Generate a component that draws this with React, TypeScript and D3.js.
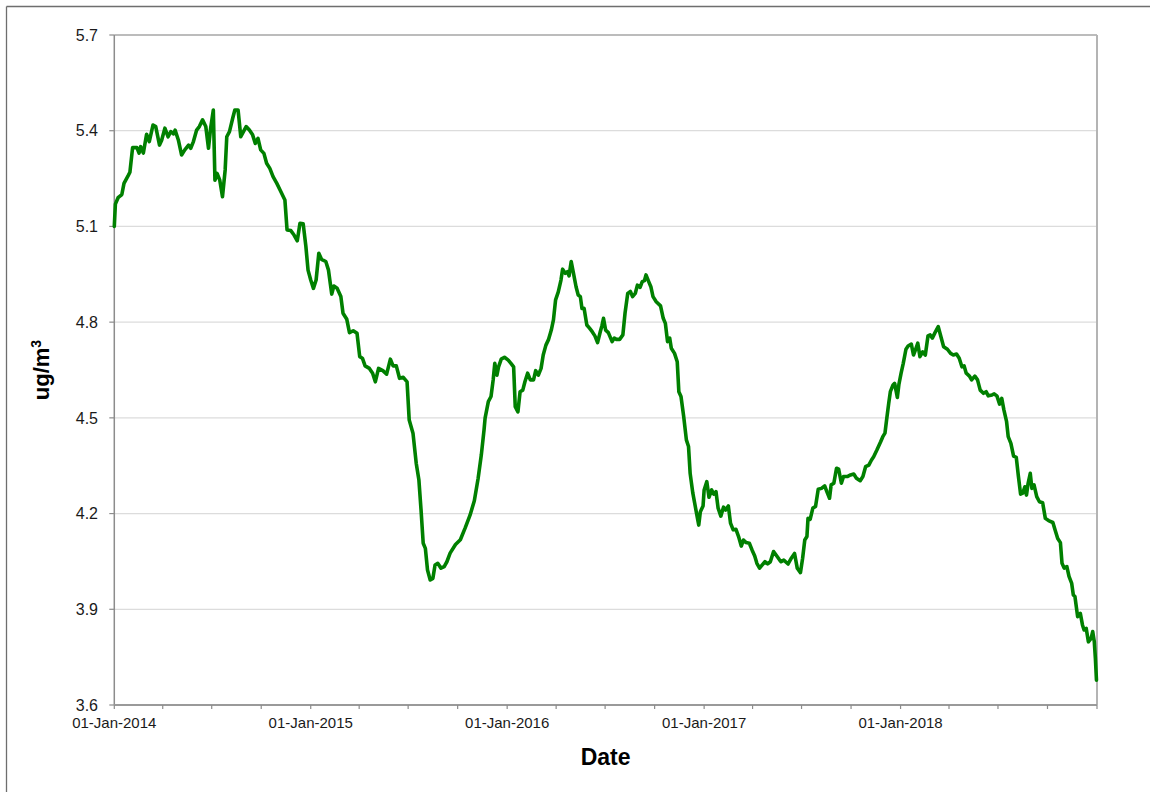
import React from 'react';
import * as d3 from 'd3';

// Rolling concentration series, one pair of arrays per year
const dates2014 = ['2014-01-01','2014-01-03','2014-01-08','2014-01-15','2014-01-19','2014-01-27','2014-01-30','2014-02-04','2014-02-12','2014-02-16','2014-02-19','2014-02-24','2014-03-02','2014-03-07','2014-03-14','2014-03-19','2014-03-26','2014-03-30','2014-04-05','2014-04-11','2014-04-16','2014-04-21','2014-04-24','2014-04-30','2014-05-06','2014-05-12','2014-05-19','2014-05-23','2014-05-28','2014-06-03','2014-06-08','2014-06-14','2014-06-20','2014-06-25','2014-06-29','2014-07-04','2014-07-07','2014-07-11','2014-07-16','2014-07-21','2014-07-26','2014-07-29','2014-08-03','2014-08-09','2014-08-13','2014-08-19','2014-08-24','2014-08-29','2014-09-03','2014-09-09','2014-09-15','2014-09-20','2014-09-25','2014-09-30','2014-10-06','2014-10-11','2014-10-17','2014-10-23','2014-10-30','2014-11-05','2014-11-14','2014-11-18','2014-11-25','2014-12-01','2014-12-07','2014-12-12','2014-12-18','2014-12-23','2014-12-27'];
const values2014 = [5.10,5.17,5.19,5.20,5.235,5.26,5.27,5.347,5.347,5.33,5.35,5.33,5.389,5.366,5.418,5.413,5.355,5.37,5.408,5.381,5.397,5.39,5.402,5.371,5.324,5.34,5.355,5.345,5.366,5.402,5.413,5.434,5.413,5.345,5.408,5.465,5.245,5.266,5.245,5.193,5.277,5.381,5.397,5.439,5.465,5.465,5.381,5.397,5.413,5.402,5.387,5.36,5.376,5.34,5.329,5.298,5.282,5.256,5.235,5.214,5.183,5.089,5.087,5.073,5.055,5.11,5.108,5.037,4.963];

const dates2015 = ['2015-01-01','2015-01-06','2015-01-11','2015-01-16','2015-01-21','2015-01-29','2015-02-03','2015-02-09','2015-02-13','2015-02-19','2015-02-26','2015-03-02','2015-03-09','2015-03-14','2015-03-21','2015-03-28','2015-04-02','2015-04-07','2015-04-12','2015-04-20','2015-04-26','2015-05-01','2015-05-07','2015-05-15','2015-05-22','2015-05-29','2015-06-03','2015-06-09','2015-06-15','2015-06-22','2015-06-29','2015-07-03','2015-07-10','2015-07-16','2015-07-21','2015-07-25','2015-07-29','2015-08-02','2015-08-06','2015-08-11','2015-08-16','2015-08-20','2015-08-25','2015-08-31','2015-09-06','2015-09-11','2015-09-17','2015-09-27','2015-10-06','2015-10-15','2015-10-24','2015-11-01','2015-11-08','2015-11-14','2015-11-19','2015-11-21','2015-11-27','2015-12-02','2015-12-06','2015-12-09','2015-12-13','2015-12-16','2015-12-21','2015-12-27'];
const values2015 = [4.932,4.906,4.932,5.016,4.997,4.99,4.963,4.888,4.913,4.906,4.88,4.828,4.809,4.767,4.773,4.765,4.692,4.687,4.663,4.655,4.64,4.613,4.655,4.648,4.637,4.684,4.663,4.663,4.624,4.627,4.613,4.493,4.452,4.358,4.305,4.211,4.107,4.091,4.023,3.992,3.997,4.039,4.044,4.029,4.034,4.049,4.076,4.103,4.118,4.155,4.195,4.24,4.31,4.384,4.462,4.499,4.551,4.567,4.619,4.671,4.634,4.66,4.684,4.69];

const dates2016 = ['2016-01-03','2016-01-08','2016-01-13','2016-01-16','2016-01-21','2016-01-25','2016-01-30','2016-02-03','2016-02-08','2016-02-13','2016-02-19','2016-02-23','2016-02-28','2016-03-04','2016-03-08','2016-03-13','2016-03-18','2016-03-23','2016-03-27','2016-03-31','2016-04-05','2016-04-10','2016-04-13','2016-04-18','2016-04-22','2016-04-25','2016-04-29','2016-05-03','2016-05-08','2016-05-12','2016-05-16','2016-05-19','2016-05-23','2016-05-28','2016-06-02','2016-06-07','2016-06-12','2016-06-17','2016-06-22','2016-06-25','2016-06-28','2016-07-02','2016-07-07','2016-07-14','2016-07-18','2016-07-22','2016-07-28','2016-08-03','2016-08-07','2016-08-12','2016-08-17','2016-08-21','2016-08-26','2016-08-30','2016-09-04','2016-09-08','2016-09-12','2016-09-15','2016-09-20','2016-09-24','2016-09-28','2016-10-04','2016-10-12','2016-10-17','2016-10-21','2016-10-25','2016-10-29','2016-11-01','2016-11-07','2016-11-12','2016-11-15','2016-11-19','2016-11-24','2016-11-29','2016-12-03','2016-12-06','2016-12-11','2016-12-18','2016-12-22','2016-12-25','2016-12-30'];
const values2016 = [4.681,4.671,4.66,4.535,4.519,4.582,4.587,4.613,4.64,4.619,4.619,4.648,4.634,4.655,4.697,4.728,4.746,4.775,4.807,4.87,4.895,4.932,4.966,4.953,4.958,4.945,4.99,4.955,4.911,4.885,4.88,4.843,4.843,4.791,4.781,4.77,4.757,4.736,4.77,4.788,4.812,4.775,4.767,4.739,4.75,4.746,4.746,4.76,4.828,4.89,4.896,4.88,4.89,4.916,4.909,4.927,4.93,4.948,4.927,4.911,4.88,4.864,4.851,4.812,4.796,4.739,4.75,4.718,4.702,4.676,4.582,4.567,4.504,4.431,4.41,4.326,4.264,4.2,4.164,4.206,4.224];

const dates2017 = ['2017-01-01','2017-01-06','2017-01-10','2017-01-15','2017-01-19','2017-01-23','2017-01-27','2017-02-01','2017-02-06','2017-02-10','2017-02-15','2017-02-19','2017-02-24','2017-03-01','2017-03-06','2017-03-11','2017-03-15','2017-03-20','2017-03-26','2017-03-31','2017-04-05','2017-04-09','2017-04-14','2017-04-19','2017-04-24','2017-04-29','2017-05-04','2017-05-10','2017-05-16','2017-05-21','2017-05-24','2017-05-29','2017-06-06','2017-06-12','2017-06-18','2017-06-23','2017-06-29','2017-07-03','2017-07-07','2017-07-11','2017-07-13','2017-07-17','2017-07-22','2017-07-27','2017-08-01','2017-08-07','2017-08-13','2017-08-17','2017-08-22','2017-08-25','2017-08-30','2017-09-04','2017-09-08','2017-09-13','2017-09-17','2017-09-24','2017-09-30','2017-10-06','2017-10-11','2017-10-18','2017-10-23','2017-10-28','2017-11-03','2017-11-08','2017-11-12','2017-11-18','2017-11-25','2017-11-29','2017-12-03','2017-12-06','2017-12-10','2017-12-13','2017-12-18','2017-12-21','2017-12-26','2017-12-29'];
const values2017 = [4.274,4.30,4.251,4.274,4.261,4.269,4.217,4.192,4.22,4.211,4.224,4.17,4.149,4.151,4.128,4.098,4.117,4.109,4.107,4.086,4.067,4.044,4.029,4.039,4.049,4.042,4.049,4.081,4.067,4.055,4.049,4.054,4.042,4.06,4.075,4.029,4.015,4.06,4.117,4.128,4.185,4.182,4.217,4.222,4.276,4.279,4.287,4.269,4.248,4.29,4.295,4.342,4.339,4.295,4.316,4.316,4.321,4.324,4.311,4.303,4.316,4.347,4.352,4.368,4.378,4.399,4.425,4.441,4.452,4.493,4.546,4.582,4.603,4.608,4.564,4.606];

const dates2018 = ['2018-01-02','2018-01-06','2018-01-11','2018-01-15','2018-01-21','2018-01-25','2018-01-29','2018-02-02','2018-02-06','2018-02-11','2018-02-16','2018-02-21','2018-02-25','2018-03-01','2018-03-06','2018-03-12','2018-03-17','2018-03-22','2018-03-29','2018-04-04','2018-04-09','2018-04-15','2018-04-20','2018-04-25','2018-04-29','2018-05-03','2018-05-09','2018-05-13','2018-05-19','2018-05-24','2018-05-29','2018-06-04','2018-06-09','2018-06-13','2018-06-20','2018-06-24','2018-06-29','2018-07-04','2018-07-08','2018-07-12','2018-07-17','2018-07-20','2018-07-25','2018-07-30','2018-08-04','2018-08-08','2018-08-12','2018-08-16','2018-08-20','2018-08-23','2018-08-26','2018-08-30','2018-09-02','2018-09-06','2018-09-11','2018-09-16','2018-09-22','2018-09-27','2018-10-03','2018-10-11','2018-10-15','2018-10-20','2018-10-25','2018-10-28','2018-11-01','2018-11-06','2018-11-10','2018-11-15','2018-11-18','2018-11-21','2018-11-26','2018-12-01','2018-12-05','2018-12-08','2018-12-12','2018-12-16','2018-12-21','2018-12-24','2018-12-27','2018-12-29','2018-12-31'];
const values2018 = [4.64,4.671,4.715,4.725,4.731,4.697,4.715,4.734,4.692,4.707,4.697,4.757,4.76,4.75,4.767,4.786,4.754,4.723,4.715,4.702,4.697,4.70,4.687,4.66,4.663,4.64,4.631,4.619,4.631,4.619,4.587,4.577,4.582,4.569,4.572,4.575,4.569,4.543,4.561,4.525,4.488,4.441,4.42,4.38,4.376,4.316,4.261,4.264,4.284,4.258,4.295,4.326,4.279,4.29,4.253,4.237,4.234,4.185,4.178,4.172,4.149,4.122,4.109,4.044,4.029,4.034,4.003,3.981,3.945,3.94,3.877,3.887,3.851,3.835,3.84,3.798,3.809,3.83,3.798,3.746,3.678];

const yTickValues = [3.6, 3.9, 4.2, 4.5, 4.8, 5.1, 5.4, 5.7];
const xLabelDates = ['2014-01-01', '2015-01-01', '2016-01-01', '2017-01-01', '2018-01-01'];
const xDomain = ['2014-01-01', '2019-01-01'];
const yTitle = 'ug/m';
const yTitleSup = '3';
const xTitle = 'Date';

const parse = d3.timeParse('%Y-%m-%d');
const fmt = d3.timeFormat('%d-%b-%Y');

type Pt = { date: Date; value: number };

const allDates = [...dates2014, ...dates2015, ...dates2016, ...dates2017, ...dates2018];
const allValues = [...values2014, ...values2015, ...values2016, ...values2017, ...values2018];
const series: Pt[] = allDates.map((d, i) => ({ date: parse(d) as Date, value: allValues[i] }));

const W = 1151;
const H = 792;
const plot = { left: 114.3, right: 1097, top: 35, bottom: 705 };

export default function App() {
  const x = d3
    .scaleTime()
    .domain(xDomain.map((d) => parse(d) as Date))
    .range([plot.left, plot.right]);
  const y = d3.scaleLinear().domain([3.6, 5.7]).range([plot.bottom, plot.top]);

  const line = d3
    .line<Pt>()
    .x((d) => x(d.date))
    .y((d) => y(d.value));

  const quarterTicks = x.ticks(d3.timeMonth.every(3) as d3.TimeInterval);
  const font = "'Liberation Sans', Arial, sans-serif";

  return (
    <svg
      width={W}
      height={H}
      style={{ position: 'absolute', left: 0, top: 0, background: '#fff' }}
      fontFamily={font}
    >
      {/* outer frame */}
      <line x1={6.5} y1={6.5} x2={1150} y2={6.5} stroke="#6e6e6e" strokeWidth={1.3} />
      <line x1={6.5} y1={6.5} x2={6.5} y2={H} stroke="#6e6e6e" strokeWidth={1.3} />

      {/* horizontal gridlines */}
      {yTickValues.map((v) => (
        <line
          key={'g' + v}
          x1={plot.left}
          x2={plot.right}
          y1={y(v)}
          y2={y(v)}
          stroke="#dcdcdc"
          strokeWidth={1.2}
        />
      ))}

      {/* plot frame */}
      <line x1={plot.left} x2={plot.right} y1={plot.top} y2={plot.top} stroke="#8c8c8c" strokeWidth={1.2} />
      <line x1={plot.right} x2={plot.right} y1={plot.top} y2={plot.bottom} stroke="#b4b4b4" strokeWidth={2} />

      {/* y axis */}
      <line x1={plot.left} x2={plot.left} y1={plot.top} y2={plot.bottom} stroke="#8c8c8c" strokeWidth={1.5} />
      {yTickValues.map((v) => (
        <g key={'yt' + v}>
          <line x1={plot.left - 5} x2={plot.left} y1={y(v)} y2={y(v)} stroke="#8c8c8c" strokeWidth={1.2} />
          <text x={98} y={y(v)} dy="0.36em" textAnchor="end" fontSize={16} fill="#1a1a1a">
            {v.toFixed(1)}
          </text>
        </g>
      ))}

      {/* x axis */}
      <line x1={plot.left} x2={plot.right} y1={plot.bottom} y2={plot.bottom} stroke="#9a9a9a" strokeWidth={2} />
      {quarterTicks.map((t) => (
        <line
          key={'xt' + t.getTime()}
          x1={x(t)}
          x2={x(t)}
          y1={plot.bottom}
          y2={plot.bottom + 4}
          stroke="#8c8c8c"
          strokeWidth={1.2}
        />
      ))}
      {xLabelDates.map((d) => {
        const dt = parse(d) as Date;
        return (
          <text key={'xl' + d} x={x(dt)} y={728} textAnchor="middle" fontSize={15} fill="#1a1a1a">
            {fmt(dt)}
          </text>
        );
      })}

      {/* axis titles */}
      <text x={(plot.left + plot.right) / 2} y={765} textAnchor="middle" fontSize={23} fontWeight="bold" fill="#000">
        {xTitle}
      </text>
      <text
        transform={`translate(49, ${(plot.top + plot.bottom) / 2}) rotate(-90)`}
        textAnchor="middle"
        fontSize={22}
        fontWeight="bold"
        fill="#000"
      >
        {yTitle}
        <tspan fontSize={14} dy={-8}>
          {yTitleSup}
        </tspan>
      </text>

      {/* series */}
      <path
        d={line(series) || ''}
        fill="none"
        stroke="#008000"
        strokeWidth={3.6}
        strokeLinejoin="round"
        strokeLinecap="round"
      />
    </svg>
  );
}
